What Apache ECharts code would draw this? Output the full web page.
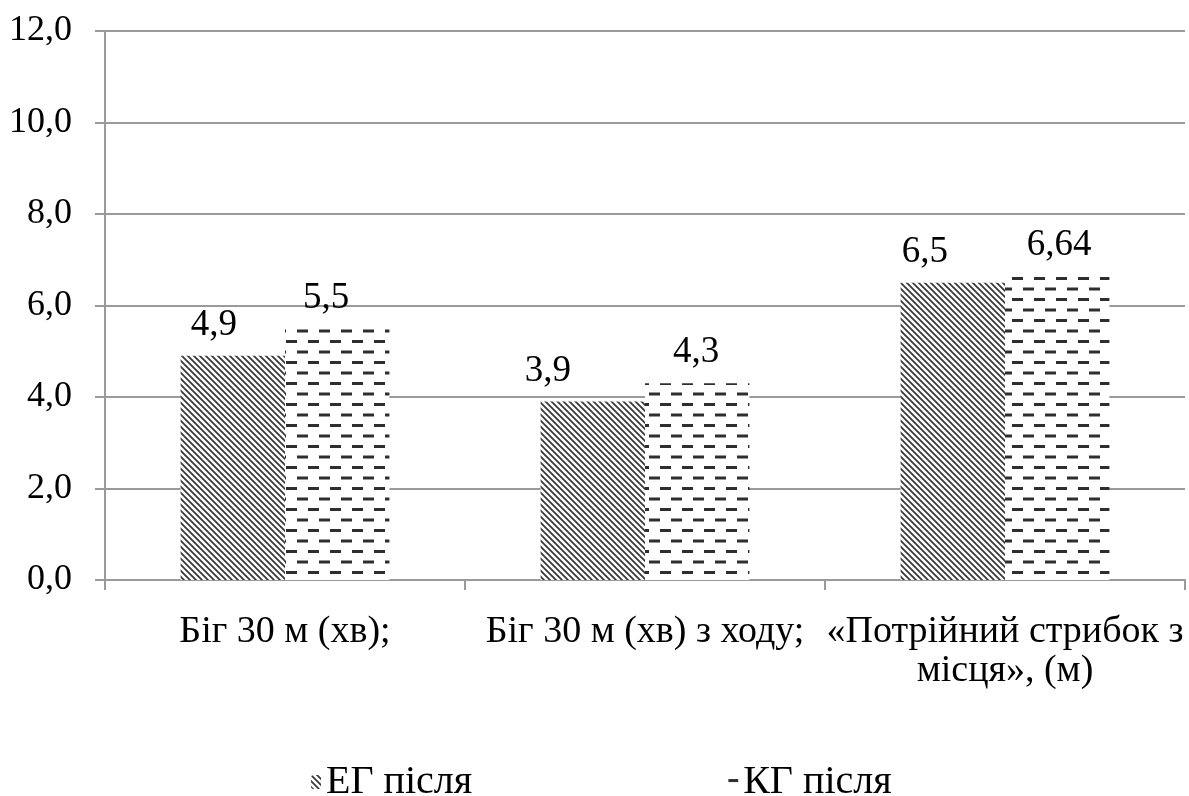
<!DOCTYPE html>
<html><head><meta charset="utf-8">
<script src="https://cdn.jsdelivr.net/npm/echarts@6/dist/echarts.min.js"></script>
<style>html,body{margin:0;padding:0;background:#fff}#c{width:1189px;height:796px}</style>
</head><body><div id="c"></div>
<script>
const categories = ['Біг 30 м (хв);', 'Біг 30 м (хв) з ходу;', '«Потрійний стрибок з\nмісця», (м)'];
const seriesNames = ['ЕГ після', 'КГ після'];
const egValues = [4.9, 3.9, 6.5];
const kgValues = [5.5, 4.3, 6.64];
const yTicks = { min: 0, max: 12, interval: 2 };

// layout-only nudges for value labels (x px), as placed in the original
const egLabelNudge = [-19, -45, -28];
const kgLabelNudge = [-11, -1, 2];

function diagPattern() {
  const c = document.createElement('canvas');
  c.width = 6; c.height = 6;
  const g = c.getContext('2d');
  g.fillStyle = '#fff'; g.fillRect(0, 0, 6, 6);
  g.strokeStyle = '#3a3a3a'; g.lineWidth = 1.8;
  g.beginPath();
  g.moveTo(-1, -1); g.lineTo(7, 7);
  g.moveTo(-1, 5); g.lineTo(1, 7);
  g.moveTo(5, -1); g.lineTo(7, 1);
  g.stroke();
  return c;
}
function dashPattern() {
  const c = document.createElement('canvas');
  c.width = 22; c.height = 21;
  const g = c.getContext('2d');
  g.fillStyle = '#fff'; g.fillRect(0, 0, 22, 21);
  g.fillStyle = '#2e2e2e';
  g.fillRect(0, 4, 11, 3);
  g.fillRect(11, 14.5, 11, 3);
  return c;
}
const egFill = { image: diagPattern(), repeat: 'repeat' };
const kgFill = { image: dashPattern(), repeat: 'repeat' };

const font = 'Liberation Serif, Times New Roman, serif';
const fmt = v => String(v).replace('.', ',');

function withLabels(values, nudges) {
  return values.map((v, i) => ({ value: v, label: { offset: [nudges[i], 0] } }));
}

const chart = echarts.init(document.getElementById('c'), null, { renderer: 'canvas' });
chart.setOption({
  animation: false,
  backgroundColor: '#fff',
  textStyle: { fontFamily: font, color: '#000' },
  grid: { left: 105, right: 4, top: 31, bottom: 216, containLabel: false },
  legend: {
    data: seriesNames,
    left: 306, top: 757,
    itemWidth: 10, itemHeight: 14, itemGap: 256,
    textStyle: { fontFamily: font, fontSize: 40, color: '#000' }
  },
  xAxis: {
    type: 'category',
    data: categories,
    axisLine: { lineStyle: { color: '#9a9a9a', width: 2 } },
    axisTick: { show: true, length: 10, lineStyle: { color: '#9a9a9a', width: 2 } },
    axisLabel: { margin: 33, fontFamily: font, fontSize: 38, color: '#000', lineHeight: 39, interval: 0 }
  },
  yAxis: {
    type: 'value',
    min: yTicks.min, max: yTicks.max, interval: yTicks.interval,
    axisLine: { show: true, lineStyle: { color: '#9a9a9a', width: 2 } },
    axisTick: { show: true, length: 10, lineStyle: { color: '#9a9a9a', width: 2 } },
    splitLine: { lineStyle: { color: '#9a9a9a', width: 2 } },
    axisLabel: { margin: 33, fontFamily: font, fontSize: 36, color: '#000', formatter: v => v.toFixed(1).replace('.', ',') }
  },
  series: [
    {
      name: seriesNames[0], type: 'bar', data: withLabels(egValues, egLabelNudge),
      barGap: '0%', barCategoryGap: '42%',
      itemStyle: { color: egFill },
      label: { show: true, position: 'top', distance: 12, fontFamily: font, fontSize: 37, color: '#000', formatter: p => fmt(p.value) }
    },
    {
      name: seriesNames[1], type: 'bar', data: withLabels(kgValues, kgLabelNudge),
      barGap: '0%', barCategoryGap: '42%',
      itemStyle: { color: kgFill },
      label: { show: true, position: 'top', distance: 12, fontFamily: font, fontSize: 37, color: '#000', formatter: p => fmt(p.value) }
    }
  ]
});
</script></body></html>
